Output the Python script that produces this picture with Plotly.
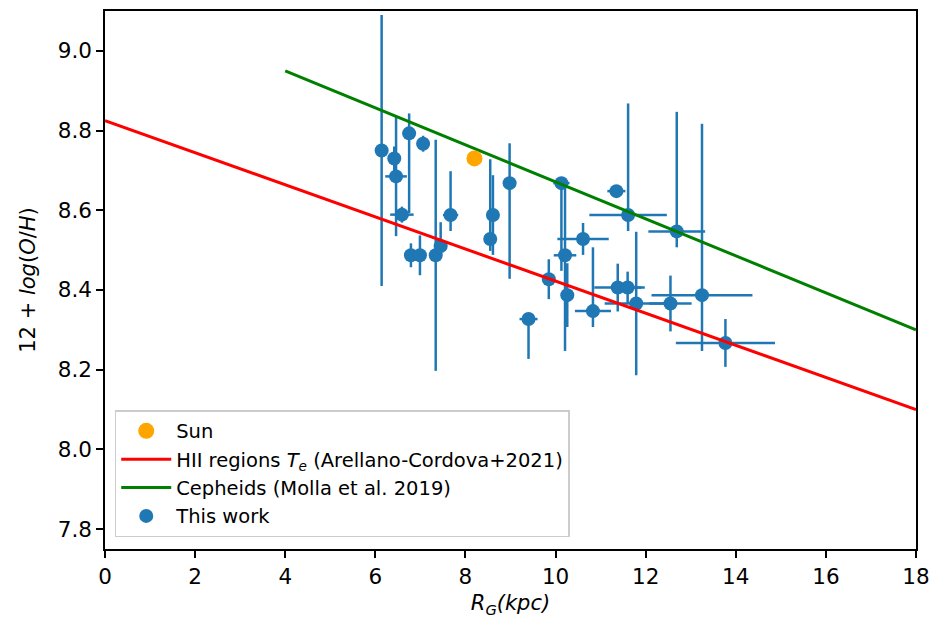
import plotly.graph_objects as go

# --- data ---
r_gal = [6.14, 6.42, 6.46, 6.75, 7.06, 6.59, 6.79, 6.99, 7.34, 7.45,
         7.67, 8.55, 8.61, 8.98, 9.85, 9.40, 10.13, 10.21, 10.26, 10.61,
         10.83, 11.35, 11.61, 11.38, 11.60, 11.79, 12.55, 12.69, 13.25, 13.77]
oh = [8.75, 8.73, 8.685, 8.793, 8.767, 8.589, 8.487, 8.487, 8.487, 8.51,
      8.588, 8.528, 8.588, 8.668, 8.427, 8.327, 8.668, 8.487, 8.387, 8.528,
      8.347, 8.648, 8.588, 8.406, 8.406, 8.366, 8.366, 8.547, 8.387, 8.267]
oh_err_plus = [0.34, 0.03, 0.15, 0.05, 0.02, 0.02, 0.03, 0.05, 0.29, 0.06,
               0.11, 0.20, 0.10, 0.10, 0.05, 0.01, 0.01, 0.17, 0.08, 0.04,
               0.16, 0.01, 0.28, 0.06, 0.04, 0.18, 0.07, 0.30, 0.43, 0.06]
oh_err_minus = [0.34, 0.03, 0.15, 0.20, 0.02, 0.02, 0.03, 0.05, 0.29, 0.03,
                0.04, 0.03, 0.10, 0.24, 0.05, 0.10, 0.22, 0.24, 0.08, 0.04,
                0.04, 0.01, 0.04, 0.06, 0.04, 0.18, 0.07, 0.04, 0.14, 0.06]
r_err = [0.05, 0.05, 0.24, 0.05, 0.05, 0.26, 0.05, 0.05, 0.05, 0.05,
         0.17, 0.05, 0.05, 0.05, 0.05, 0.20, 0.18, 0.25, 0.05, 0.57,
         0.40, 0.20, 0.86, 0.52, 0.38, 0.70, 0.47, 0.63, 1.12, 1.10]

sun_r = [8.2]
sun_oh = [8.73]

hii_r = [0.0, 18.0]
hii_oh = [8.825, 8.10]

ceph_r = [4.0, 18.0]
ceph_oh = [8.95, 8.30]

blue = "#1f77b4"
font_family = "DejaVu Sans"

fig = go.Figure()

fig.add_trace(go.Scatter(
    x=r_gal, y=oh, mode="markers", name="This work",
    marker=dict(color=blue, size=14),
    error_y=dict(type="data", array=oh_err_plus, arrayminus=oh_err_minus,
                 symmetric=False, color=blue, thickness=2.5, width=0),
    error_x=dict(type="data", array=r_err, color=blue, thickness=2.5, width=0),
    legendrank=4,
))
fig.add_trace(go.Scatter(
    x=hii_r, y=hii_oh, mode="lines",
    name="HII regions <i>T</i><sub><i>e</i></sub> (Arellano-Cordova+2021)",
    line=dict(color="red", width=3), legendrank=2,
))
fig.add_trace(go.Scatter(
    x=ceph_r, y=ceph_oh, mode="lines",
    name="Cepheids (Molla et al. 2019)",
    line=dict(color="green", width=3), legendrank=3,
))
fig.add_trace(go.Scatter(
    x=sun_r, y=sun_oh, mode="markers", name="Sun",
    marker=dict(color="orange", size=16), legendrank=1,
))

axis_common = dict(
    showline=True, linecolor="black", linewidth=1.5, mirror=True,
    ticks="outside", ticklen=7, tickwidth=1.5, tickcolor="black",
    showgrid=False, zeroline=False,
    tickfont=dict(family=font_family, size=21.5, color="black"),
)

fig.update_layout(
    width=939, height=629,
    margin=dict(l=105, r=18, t=9, b=80),
    plot_bgcolor="white", paper_bgcolor="white",
    font=dict(family=font_family, color="black"),
    xaxis=dict(range=[0, 18], tickvals=[0, 2, 4, 6, 8, 10, 12, 14, 16, 18],
               title=dict(text="<i>R</i><sub><i>G</i></sub><i>(kpc)</i>",
                          font=dict(size=21), standoff=8),
               **axis_common),
    yaxis=dict(range=[7.75, 9.1], tickvals=[7.8, 8.0, 8.2, 8.4, 8.6, 8.8, 9.0],
               ticktext=["7.8", "8.0", "8.2", "8.4", "8.6", "8.8", "9.0"],
               title=dict(text="12 + <i>log</i>(<i>O</i>/<i>H</i>)",
                          font=dict(size=21), standoff=16),
               **axis_common),
    legend=dict(x=0.012, y=0.022, xanchor="left", yanchor="bottom",
                bgcolor="rgba(255,255,255,0.8)", bordercolor="#cccccc",
                borderwidth=1.5, font=dict(size=19.5, family=font_family),
                itemwidth=50, tracegroupgap=0),
    showlegend=True,
)

fig.write_html("out.html")
